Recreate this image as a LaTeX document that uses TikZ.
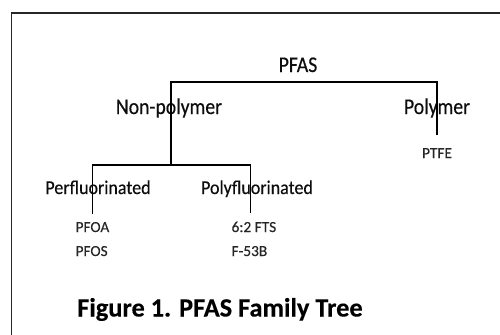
\documentclass[tikz,border=0pt]{standalone}
\usepackage{fontspec}
\setmainfont{Carlito}[FakeBold=0.3]
\newfontfamily\tallfont{Carlito}[FakeStretch=0.88, FakeBold=0.35]
\newfontfamily\midfont{Carlito}[FakeStretch=0.92, FakeBold=0.35]
\usepackage{tikz}

\tikzset{
    level/.style={inner sep=2pt, anchor=base, text=black!95, font=\tallfont\fontsize{19.1}{22}\selectfont},
    sublevel/.style={inner sep=2pt, anchor=base, text=black!95, font=\midfont\fontsize{16.7}{20}\selectfont},
    leaf/.style={inner sep=2pt, anchor=base west, text=black!85, font=\fontsize{13.1}{16}\selectfont},
    branch/.style={line width=1pt}
}

\begin{document}
\begin{tikzpicture}[x=0.03cm, y=-0.03cm]
    \useasboundingbox (0,0) rectangle (500,335);
    \clip (0,0) rectangle (500,335);

    % Frame
    \draw[line width=1.6pt, black!85] (11.5,13) rectangle (530,360);

    % Tree labels
    \node[level] (pfas) at (298,72) {PFAS};
    \node[level] (nonpoly) at (169,114) {Non-polymer};
    \node[level] (poly) at (437,114) {Polymer};
    \node[leaf, anchor=base] (ptfe) at (437,158) {PTFE};
    \node[sublevel] (perf) at (98,194) {Perfluorinated};
    \node[sublevel] (polyf) at (257,194) {Polyfluorinated};
    \node[leaf] (pfoa) at (73,232) {PFOA};
    \node[leaf] (pfos) at (73,256) {PFOS};
    \node[leaf] (fts) at (229,232) {6:2 FTS};
    \node[leaf] (fbeta) at (229,256) {F-53B};

    % Branch points
    \coordinate (top) at (171,82);
    \coordinate (mid) at (171,165);

    % Connections
    \draw[branch] (mid) -- (top) -| ([yshift=9pt]ptfe.north);
    \draw[branch] ([yshift=5pt]pfoa.north) |- (mid) -| ([xshift=-2.8pt,yshift=5pt]fts.north);

    % Caption
    \node[inner sep=0pt, anchor=base west, text=black, font=\fontsize{22.5}{26}\selectfont\bfseries] (caption) at (77,316.5) {Figure 1. PFAS Family Tree};
\end{tikzpicture}
\end{document}
